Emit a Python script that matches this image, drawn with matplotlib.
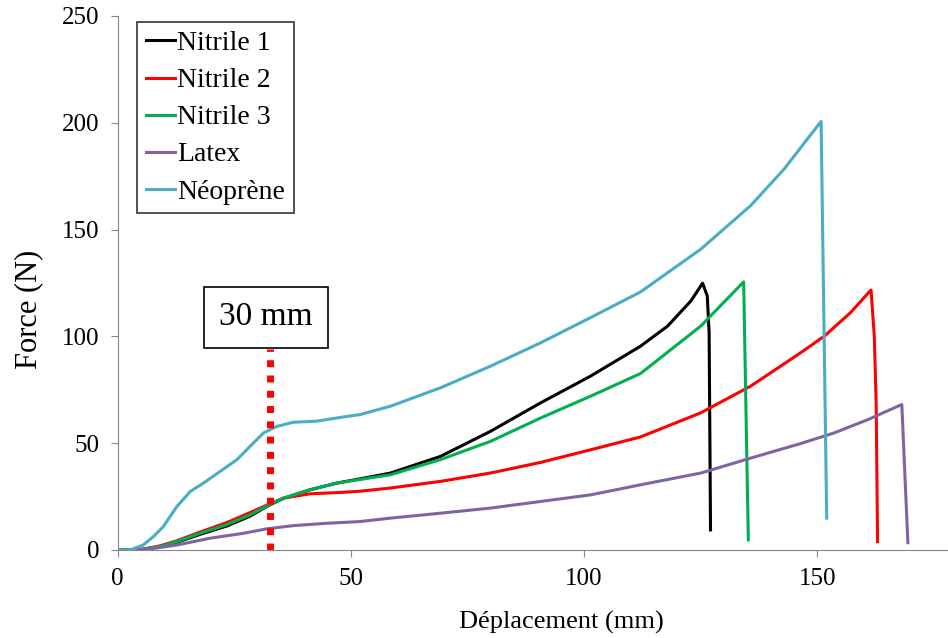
import matplotlib.pyplot as plt

plt.rcParams['font.family'] = ['Liberation Serif', 'DejaVu Serif']

# Displacement (mm) / force (N)
x_nitrile1 = [0, 3, 5.5, 9.1, 12.7, 17.7, 23.4, 28.4, 32, 35.6, 41.3, 47, 52, 58.5, 69.2, 79.9,
              90.7, 101.4, 112.1, 117.9, 122.9, 125.4, 126.4, 126.8, 127.1]
y_nitrile1 = [0, 0, 0.3, 1.5, 3.6, 7.3, 11.2, 15.8, 20.4, 24.2, 28.2, 31.3, 33.3, 36, 43.8, 55.5,
              68.9, 81.4, 95.4, 104.8, 116.6, 124.9, 118.9, 101.7, 9.4]

x_nitrile2 = [0, 3, 5.5, 9.1, 12.7, 17.7, 23.4, 28.4, 32, 35.6, 41.3, 47.7, 52, 58.5, 69.2, 79.9,
              90.7, 101.4, 112.1, 125, 135.7, 146.4, 151.5, 157.1, 161.5, 162.2, 162.6, 162.9]
y_nitrile2 = [0, 0, 0.4, 1.9, 4.3, 8.4, 12.8, 17.5, 21, 24.3, 26.3, 26.9, 27.5, 29, 32.1, 36,
              41, 46.9, 52.9, 64.2, 76.7, 92.3, 100.1, 111.1, 121.7, 100.1, 68.9, 3.9]

x_nitrile3 = [0, 3, 5.5, 9.1, 12.7, 17.7, 23.4, 28.4, 32, 35.6, 41.3, 47, 52, 58.5, 69.2, 79.9,
              90.7, 101.4, 112.1, 125, 134.2, 135.2]
y_nitrile3 = [0, 0, 0.3, 1.6, 3.9, 7.8, 11.8, 16.4, 20.6, 24.3, 28.2, 31.3, 33, 35.2, 42.3, 50.8,
              61.8, 72, 82.6, 104.8, 125.5, 4.7]

x_latex = [0, 4, 7, 12.7, 19.8, 27, 32, 37.7, 44.9, 52, 58.5, 69.2, 79.9, 90.7, 101.4, 112.1,
           125, 135.7, 146.4, 153.6, 160.8, 168.1, 169.4]
y_latex = [0, 0, 0.5, 2.3, 5.5, 7.8, 9.9, 11.4, 12.5, 13.3, 14.9, 17.2, 19.6, 22.7, 25.8, 30.5,
           36, 43, 49.8, 54.8, 61, 68.1, 3.4]

x_neoprene = [0, 2.7, 5.5, 7.7, 9.8, 12.7, 15.6, 18.4, 22, 25.6, 28.4, 31.3, 34.2, 37.7, 42.7,
              47, 52, 58.5, 69.2, 79.9, 90.7, 101.4, 112.1, 125, 135.7, 142.9, 147.9, 150.8, 152]
y_neoprene = [0, 0, 2.3, 6.3, 10.9, 20.3, 27.4, 31.3, 36.8, 42.3, 48.5, 54.8, 57.9, 59.8, 60.3,
              61.8, 63.4, 67.3, 75.9, 86, 97, 108.8, 120.8, 140.8, 161.2, 178.4, 192.5, 200.6, 14.9]

marker_x = 32.7
marker_top = 94

fig = plt.figure(figsize=(9.48, 6.38), dpi=100)
ax = fig.add_axes([0.124, 0.138, 0.876, 0.837])

lw = 2.2
ax.plot(x_nitrile1, y_nitrile1, color='black', lw=lw, label='Nitrile 1')
ax.plot(x_nitrile2, y_nitrile2, color='#FF0000', lw=lw, label='Nitrile 2')
ax.plot(x_nitrile3, y_nitrile3, color='#00B050', lw=lw, label='Nitrile 3')
ax.plot(x_latex, y_latex, color='#8064A2', lw=lw, label='Latex')
ax.plot(x_neoprene, y_neoprene, color='#4BACC6', lw=lw, label='Néoprène')

# red dotted marker at the 30 mm point
ax.plot([marker_x, marker_x], [0, marker_top], color='#FF0000', lw=5,
        linestyle=(0, (1, 1.2)), dash_capstyle='butt')
ax.text(31.8, 109, '30 mm', fontsize=24, ha='center', va='center',
        bbox=dict(boxstyle='square,pad=0.46', fc='white', ec='black', lw=1.2))

ax.set_xlim(0, 178)
ax.set_ylim(0, 250)
ax.set_xticks([0, 50, 100, 150])
ax.set_yticks([0, 50, 100, 150, 200, 250])

for side in ['top', 'right']:
    ax.spines[side].set_visible(False)
for side in ['left', 'bottom']:
    ax.spines[side].set_color('#868686')
ax.tick_params(direction='out', length=5, color='#868686', labelsize=18, pad=8)

ax.set_xlabel('Déplacement (mm)', fontsize=19)
ax.xaxis.set_label_coords(0.535, -0.115)
ax.set_ylabel('Force (N)', fontsize=22)
ax.yaxis.set_label_coords(-0.089, 0.45)

leg = ax.legend(loc='upper left', bbox_to_anchor=(0.023, 0.989), fontsize=20,
                frameon=True, fancybox=False, handlelength=1.05, handletextpad=0.1,
                labelspacing=0.42, borderpad=0.32, borderaxespad=0)
leg.get_frame().set_edgecolor('black')
leg.get_frame().set_linewidth(1.2)

fig.savefig('out.png', dpi=100)
